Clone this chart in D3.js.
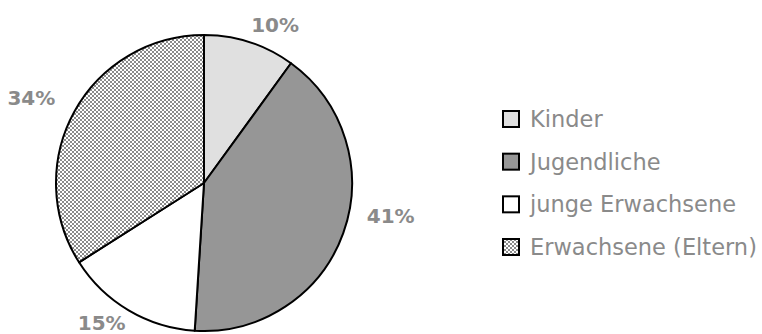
<!DOCTYPE html>
<html>
<head>
<meta charset="utf-8">
<script src="https://cdn.jsdelivr.net/npm/d3@7"></script>
<style>
  html, body { margin: 0; padding: 0; background: #fff; }
  svg { display: block; }
</style>
</head>
<body>
<svg id="chart" width="762" height="334"></svg>
<script>
const categories = ["Kinder", "Jugendliche", "junge Erwachsene", "Erwachsene (Eltern)"];
const values = [10, 41, 15, 34];
const valueLabels = ["10%", "41%", "15%", "34%"];

const fills = ["#e0e0e0", "#969696", "#ffffff", "url(#checker)"];
// layout nudges for the data labels (mimic Excel "best fit" placement)
const labelNudge = [[-1, -3], [16, -27], [1, -2], [-12, -3]];

const cx = 204, cy = 183, R = 148;
const FONT = "DejaVu Sans, Verdana, sans-serif";
const TEXT_COL = "#8a8a8a";
const LABEL_SIZE = 20;

const svg = d3.select("#chart");
const defs = svg.append("defs");
const pat = defs.append("pattern")
  .attr("id", "checker").attr("patternUnits", "userSpaceOnUse")
  .attr("width", 4).attr("height", 4);
pat.append("rect").attr("width", 4).attr("height", 4).attr("fill", "#ffffff");
pat.append("rect").attr("x", 0).attr("y", 0).attr("width", 2).attr("height", 2).attr("fill", "#8a8a8a");
pat.append("rect").attr("x", 2).attr("y", 2).attr("width", 2).attr("height", 2).attr("fill", "#8a8a8a");

const pie = d3.pie().sort(null).value(d => d)(values);
const arc = d3.arc().innerRadius(0).outerRadius(R);

const g = svg.append("g").attr("transform", `translate(${cx},${cy})`);
g.selectAll("path.slice").data(pie).join("path")
  .attr("class", "slice")
  .attr("d", arc)
  .attr("fill", (d, i) => fills[i])
  .attr("stroke", "#000")
  .attr("stroke-width", 2)
  .attr("stroke-linejoin", "round");

// data labels: box touches a point just outside the rim along the mid-angle
const anchorR = R + 8;
g.selectAll("text.lbl").data(pie).join("text")
  .attr("class", "lbl")
  .attr("font-family", FONT)
  .attr("font-weight", "bold")
  .attr("font-size", LABEL_SIZE)
  .attr("fill", TEXT_COL)
  .attr("text-anchor", "middle")
  .attr("dy", "0.36em")
  .text((d, i) => valueLabels[i])
  .each(function(d, i) {
    const a = (d.startAngle + d.endAngle) / 2;
    const w = this.getComputedTextLength();
    const h = LABEL_SIZE * 0.73;
    const ax = Math.sin(a) * anchorR, ay = -Math.cos(a) * anchorR;
    const x = ax + Math.sign(Math.sin(a)) * w / 2 + labelNudge[i][0];
    const y = ay + (Math.cos(a) >= 0 ? -h / 2 : h / 2) + labelNudge[i][1];
    d3.select(this).attr("x", x).attr("y", y);
  });

// legend
const legend = svg.append("g").attr("transform", "translate(502,119)");
const ly = d3.scalePoint().domain(categories).range([0, 128]);
const items = legend.selectAll("g.item").data(categories).join("g")
  .attr("class", "item")
  .attr("transform", d => `translate(0,${ly(d)})`);
items.append("rect")
  .attr("x", 1).attr("y", -8).attr("width", 16).attr("height", 16)
  .attr("fill", (d, i) => fills[i])
  .attr("stroke", "#000").attr("stroke-width", 2);
items.append("text")
  .attr("x", 28).attr("y", 0)
  .attr("dy", "0.36em")
  .attr("font-family", FONT)
  .attr("font-size", 22.5)
  .attr("fill", TEXT_COL)
  .text(d => d);
</script>
</body>
</html>
